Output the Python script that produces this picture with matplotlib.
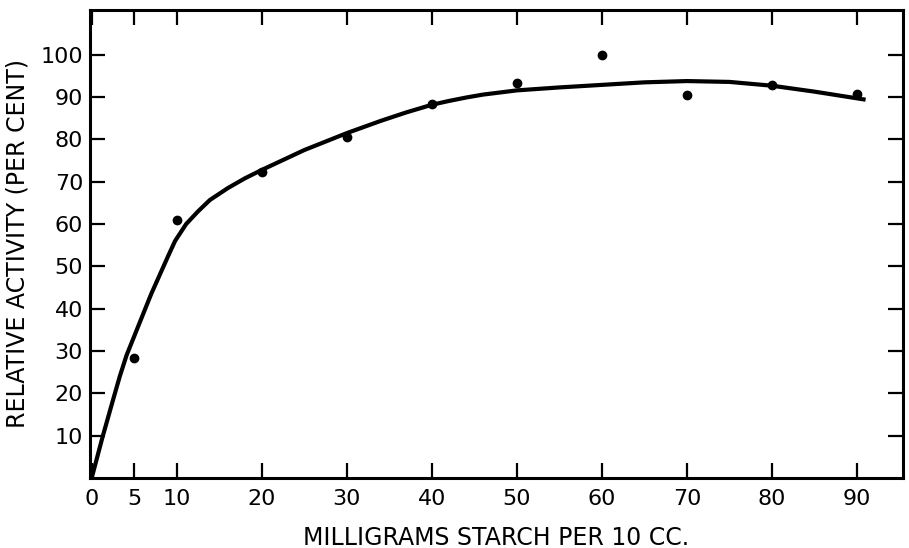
import matplotlib
matplotlib.use("Agg")
import matplotlib.pyplot as plt

# Measured data points
point_x = [5, 10, 20, 30, 40, 50, 60, 70, 80, 90]
point_y = [28.3, 61.0, 72.3, 80.7, 88.3, 93.3, 100.0, 90.5, 92.9, 90.7]

# Fitted curve
curve_x = [0, 1.25, 2.5, 3.3, 4.1, 5, 6, 7, 8, 9, 9.8, 11.1, 12.5, 13.9, 16,
           18, 20, 25, 30, 34, 37, 40, 42, 44, 46, 48, 50, 55, 60, 65, 70,
           75, 80, 85, 91]
curve_y = [0, 9.5, 18.4, 24, 29, 33.5, 38.5, 43.5, 48, 52.5, 56, 60, 63, 65.7,
           68.5, 70.8, 72.8, 77.5, 81.5, 84.4, 86.4, 88.2, 89.1, 89.9, 90.6,
           91.1, 91.6, 92.3, 92.9, 93.5, 93.8, 93.6, 92.7, 91.3, 89.4]

x_ticks = [0, 5, 10, 20, 30, 40, 50, 60, 70, 80, 90]
y_ticks = [10, 20, 30, 40, 50, 60, 70, 80, 90, 100]

plt.rcParams['font.family'] = ['DejaVu Sans']

fig = plt.figure(figsize=(9.09, 5.48), dpi=100)
ax = fig.add_axes([0.099, 0.1277, 0.8944, 0.8541])

ax.plot(curve_x, curve_y, color='black', lw=3.0, solid_capstyle='butt',
        solid_joinstyle='round')
ax.plot(point_x, point_y, 'o', color='black', markersize=6)

ax.set_xlim(-0.2, 95.4)
ax.set_ylim(0, 110.6)

ax.set_xticks(x_ticks)
ax.set_xticklabels([str(t) for t in x_ticks])
ax.set_yticks(y_ticks)
ax.set_yticklabels([str(t) for t in y_ticks])

ax.tick_params(axis='both', direction='in', length=11, width=1.6,
               labelsize=16, top=True, right=True, color='black')
ax.tick_params(axis='x', pad=8)
ax.tick_params(axis='y', pad=5)

for s in ax.spines.values():
    s.set_linewidth(2.2)
    s.set_color('black')

ax.set_xlabel('MILLIGRAMS STARCH PER 10 CC.', fontsize=17, labelpad=12)
ax.set_ylabel('RELATIVE ACTIVITY (PER CENT)', fontsize=17, labelpad=8)

fig.savefig('out.png', dpi=100)
